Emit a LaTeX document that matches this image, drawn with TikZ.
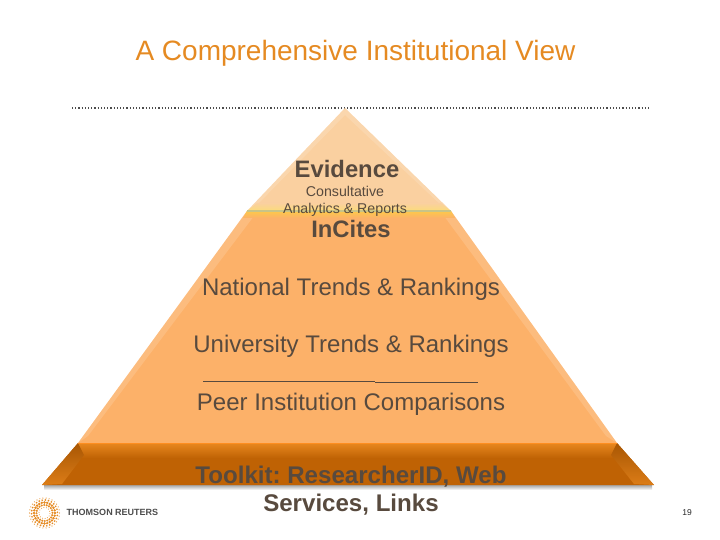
\documentclass[tikz,border=0pt]{standalone}
\usepackage{fontspec}
\setmainfont{Liberation Sans}
\usetikzlibrary{positioning, calc}
\pgfdeclarelayer{bg}
\pgfsetlayers{bg,main}
\definecolor{inktext}{HTML}{584A3E}
\definecolor{tiertop}{HTML}{FAD0A0}
\definecolor{tiermid}{HTML}{FCB169}
\definecolor{tierdark}{HTML}{BF6204}
\definecolor{tierglow}{HTML}{E8881F}
\definecolor{tierseam}{HTML}{C9C487}
\definecolor{logoorange}{HTML}{E58A22}
\tikzset{
  bigbold/.style={text=inktext, font=\fontsize{23.8}{28}\selectfont\bfseries\frenchspacing, inner sep=0pt, align=center},
  bigplain/.style={text=inktext, font=\fontsize{24}{27}\selectfont, inner sep=0pt},
  smallplain/.style={text=inktext, font=\fontsize{14.2}{17}\selectfont, inner sep=0pt},
  bevel/.style={fill=white, fill opacity=0.14, draw=none}
}
\begin{document}
\begin{tikzpicture}[x=1pt,y=-1pt]
    \useasboundingbox (0,0) rectangle (720,540);

    \node [text=logoorange, font=\fontsize{28}{32}\selectfont, inner sep=0pt] (title) at (355.5,53) {A Comprehensive Institutional View};

    \coordinate (apex) at (345,108);
    \coordinate (topl) at (247,211);
    \coordinate (topr) at (451,211);
    \coordinate (midl) at (78,443);
    \coordinate (midr) at (617,443);
    \coordinate (botl) at (42,485);
    \coordinate (botr) at (654,485);

    \begin{pgfonlayer}{bg}    % pyramid goes behind the texts
        \draw [dotted, line width=1.2pt, black!70] (72,108) -- (650,108);
        % bottom tier
        \shade [top color=black!35, bottom color=white] ($(botl)+(2,0)$) rectangle ($(botr)+(-2,5)$);
        \fill [tierdark] (midl) -- (botl) -- (botr) -- (midr) -- cycle;
        \shade [top color=tierglow, bottom color=tierdark] (midl) rectangle (617,458);
        \shade [top color=tierdark!88!black, bottom color=tierglow!70!tierdark] (midl) -- (botl) -- (62,484) -- (84,455) -- cycle;
        \shade [top color=tierdark!88!black, bottom color=tierglow!70!tierdark] (midr) -- (botr) -- (634,484) -- (611,455) -- cycle;
        % middle tier
        \fill [tiermid] (topl) -- (midl) -- (midr) -- (topr) -- cycle;
        \fill [bevel] (topl) -- (midl) -- (88,436) -- (254,216) -- cycle;
        \fill [bevel] (topr) -- (midr) -- (606,436) -- (444,216) -- cycle;
        \shade [top color=yellow!30!tiermid, bottom color=tiermid] (topl) -- (topr) -- (455,218) -- (243,218) -- cycle;
        \draw [orange!70!tiermid, line width=1pt] (midl) -- (midr);
        % top tier
        \fill [tiertop] (apex) -- (topl) -- (topr) -- cycle;
        \fill [bevel] (apex) -- (topl) -- (257,205) -- (345,115) -- cycle;
        \fill [bevel] (apex) -- (topr) -- (441,205) -- (345,115) -- cycle;
        \shade [top color=tiertop, bottom color=yellow!25!tiertop] (257,203) -- (441,203) -- (topr) -- (topl) -- cycle;
        \draw [tierseam, line width=2pt] (topl) -- (topr);
    \end{pgfonlayer}

    \node [bigbold] (evidence) at (347,168.5) {Evidence};
    \node [smallplain] (consult) at (345,191) {Consultative};
    \node [smallplain] (reports) at (345,210) {Analytics \& Reports};
    \node [bigbold] (incites) at (351,229) {InCites};
    \node [bigplain] (national) at (351,289) {National Trends \& Rankings};
    \node [bigplain] (university) at (351,346) {University Trends \& Rankings};
    \node [bigplain] (peer) at (351,404) {Peer Institution Comparisons};
    \node [bigbold, font=\fontsize{24.1}{28}\selectfont\bfseries\frenchspacing] (toolkit) at (351,491) {Toolkit: ResearcherID, Web\\Services, Links};

    \draw [inktext, line width=0.9pt] (203,381) -- (375,381);
    \draw [inktext, line width=0.9pt] (375,382) -- (478,382);

    % logo
    \foreach \ring/\num/\dotsize in {15/30/0.6, 13/26/0.95, 10.5/24/1.35, 8/20/1.15, 5.5/14/0.5}
      \foreach \k in {1,...,\num}
        \fill [logoorange] ($(44.5,513)+({\ring*cos(360*\k/\num+\ring*20)},{\ring*sin(360*\k/\num+\ring*20)})$) circle (\dotsize);

    \node [text=black!70, font=\fontsize{9}{10}\selectfont\bfseries, inner sep=0pt] (reuters) at (112.5,512.5) {THOMSON REUTERS};
    \node [text=black!85, font=\fontsize{8.5}{10}\selectfont, inner sep=0pt] (pagenum) at (687,513) {19};
\end{tikzpicture}
\end{document}
